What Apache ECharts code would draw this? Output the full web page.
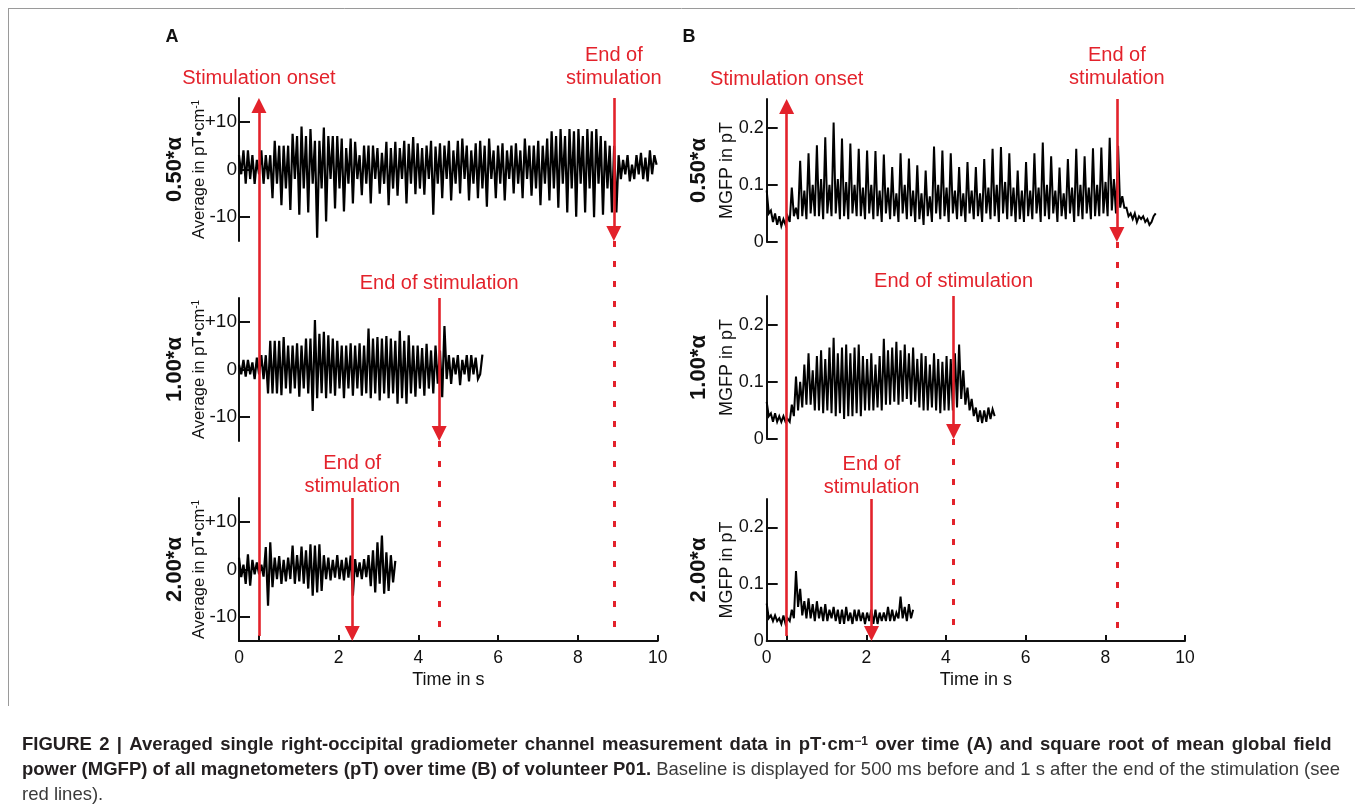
<!DOCTYPE html>
<html><head><meta charset="utf-8">
<script src="https://cdn.jsdelivr.net/npm/echarts@6/dist/echarts.min.js"></script>
<style>html,body{margin:0;padding:0;background:#fff}#c{width:1355px;height:806px}</style>
</head><body><div id="c"></div>
<script>
// ---------- data ----------
const T0 = -0.5;          // first sample time (s)
const STEP_A = 0.056;     // sample step, panel A (s)
const STEP_B = 0.0525;    // sample step, panel B (s)
const X_MIN = -0.5, X_MAX = 10;
const xLabelValues = [-0.5, 2, 4, 6, 8, 10];
const xTickLabels = ['0', '2', '4', '6', '8', '10'];
const xTickValues = [0, 2, 4, 6, 8, 10];
const yTicksA = [-10, 0, 10];
const yTickLabelsA = ['-10', '0', '+10'];
const yTicksB = [0, 0.1, 0.2];
const yTickLabelsB = ['0', '0.1', '0.2'];
const rowLabels = ['0.50*α', '1.00*α', '2.00*α'];
const onsetTime = 0;
const endTimesA = [8.9, 4.52, 2.34];
const endTimesB = [8.29, 4.19, 2.13];

// Panel A: gradiometer average (pT/cm), 0.50α / 1.00α / 2.00α
const A1 = [
 3,-1,4,-3, 4,-2,3,-3, 2,-1,4,-3, 3,-2,3,-6,
 6,-3,5,-7.5, 5,-4,5,-8.5, 7.5,-2,7,-9.5, 9,-4,7,-9,
 8.5,-3,6,-14.3, 6,-4,8.8,-10.9, 7,-2,7,-8.2, 7,-4,6.5,-8.8,
 4.5,-3,6.5,-7.1, 5.8,-2,3,-5.4, 5,-3,5,-7.1, 5,-2,4.5,-5.1,
 3.5,-3,5.8,-7.5, 4.5,-4,5.8,-5.5, 4.5,-2,6,-7.1, 5.4,-3,6.8,-5.2,
 5.5,-4,4.5,-5.3, 5,-2,6,-9.5, 4.8,-3,5.5,-6, 5,-2,6,-6.5,
 4,-3,6,-5, 6.5,-2,5,-6.5, 4,-3,5.5,-6, 6,-4,5,-7.8,
 6.5,-2,4,-6, 5,-3,5.5,-6.5, 4,-2,5,-5, 5.5,-3,4,-6,
 6.5,-2,5,-5.5, 5,-4,6,-7.5, 5,-3,6.5,-6.5, 8,-4,7,-8,
 8.5,-3,7,-9, 8.5,-4,8,-9.9, 8.5,-3,7,-9, 8.5,-4,8,-10,
 8.5,-3,7,-9.5, 6,-4,5,-9, 5,-9,3,-2, 2,-1,3,-2.5,
 1,-2,3,-1, 3.5,-2,2.5,-2.5, 4,-1,3,1
];
const A2 = [
 1,-1,2,-1.5, 2,-1,1.5,-2, 2.5,-1,3,-2, 3,-5,6,-5,
 6,-5,6,-5.4, 6.8,-4,5,-5, 5,-4,5.5,-5.7, 5,-4,6.5,-5,
 6.5,-8.7,10.4,-6, 7.5,-5,7.9,-6, 7.2,-5,6.5,-5.5, 6,-4,5,-6,
 5,-4,5.5,-5.5, 5,-4,5.5,-5.5, 5,-5,8.6,-6, 6.5,-5,6.8,-6.5,
 6.5,-5,7,-6, 6.5,-5,6,-7.2, 8.1,-6,6,-7.2, 7.2,-5,5,-5.7,
 5,-4,4.5,-5.5, 5.4,-4,4,-5, 5,-3,4,-5.8, 9.1,-2,3,-3,
 2.5,-1,3,-3.3, 2,-1,3,-2.5, 3,-1,2.5,-2, -1,3.1
];
const A3 = [
 2.5,-1.6,1,-3, 3.2,-3.4,2,-1, 1.5,-1,1,-1.5, 4.7,-7.6,5.7,-3.7,
 2.5,-2,2.8,-3, 2,-2.5,2.5,-2, 5,-3,3,-2.5, 4.8,-3,4,-4,
 5.3,-5.5,5,-4.8, 5.3,-4.5,3,-2, 2.5,-2.3,2,-1.7, 3,-2,2,-2.3,
 2.5,-1.7,2.9,-5.5, 2.2,-1.6,1.5,-2, 2.2,-1.6,3,-3.5, 4,-4.8,5.7,-3,
 7.1,-5.1,3.6,-4.5, 3,-2.7,1.8
];
// Panel B: MGFP (pT), 0.50α / 1.00α / 2.00α
const B1 = [
 0.09,0.05,0.055,0.035, 0.05,0.03,0.045,0.028, 0.04,0.03,0.045,0.035, 0.095,0.045,0.06,0.04,
 0.142,0.045,0.09,0.04, 0.155,0.05,0.1,0.045, 0.169,0.045,0.11,0.04, 0.183,0.05,0.1,0.045,
 0.209,0.05,0.11,0.04, 0.181,0.045,0.105,0.04, 0.172,0.05,0.1,0.045, 0.163,0.045,0.095,0.04,
 0.16,0.05,0.1,0.04, 0.159,0.045,0.09,0.035, 0.153,0.05,0.095,0.04, 0.131,0.045,0.085,0.035,
 0.155,0.05,0.1,0.04, 0.146,0.045,0.09,0.035, 0.134,0.04,0.085,0.03, 0.125,0.045,0.08,0.035,
 0.167,0.05,0.1,0.04, 0.16,0.045,0.095,0.035, 0.155,0.05,0.09,0.04, 0.131,0.045,0.085,0.035,
 0.14,0.05,0.09,0.04, 0.131,0.045,0.085,0.035, 0.145,0.05,0.095,0.04, 0.163,0.045,0.1,0.035,
 0.166,0.05,0.105,0.04, 0.155,0.045,0.095,0.035, 0.125,0.04,0.09,0.035, 0.14,0.045,0.09,0.04,
 0.155,0.05,0.095,0.035, 0.174,0.045,0.1,0.04, 0.15,0.05,0.09,0.035, 0.13,0.045,0.085,0.04,
 0.145,0.05,0.095,0.035, 0.163,0.045,0.1,0.04, 0.15,0.05,0.095,0.04, 0.164,0.045,0.1,0.045,
 0.165,0.05,0.105,0.045, 0.182,0.055,0.11,0.05, 0.168,0.06,0.08,0.06, 0.06,0.045,0.05,0.04,
 0.05,0.035,0.045,0.04, 0.045,0.035,0.04,0.03, 0.035,0.045,0.05
];
const B2 = [
 0.065,0.04,0.045,0.03, 0.045,0.03,0.04,0.03, 0.04,0.03,0.035,0.03, 0.06,0.04,0.109,0.05,
 0.1,0.055,0.13,0.06, 0.15,0.06,0.12,0.05, 0.145,0.05,0.155,0.045, 0.14,0.05,0.16,0.045,
 0.177,0.04,0.15,0.045, 0.16,0.035,0.165,0.04, 0.15,0.04,0.16,0.045, 0.165,0.04,0.145,0.05,
 0.14,0.05,0.15,0.05, 0.13,0.055,0.145,0.05, 0.175,0.06,0.155,0.06, 0.16,0.065,0.17,0.06,
 0.155,0.065,0.165,0.07, 0.15,0.06,0.16,0.065, 0.14,0.055,0.15,0.05, 0.145,0.05,0.13,0.055,
 0.15,0.05,0.14,0.045, 0.135,0.05,0.145,0.05, 0.14,0.05,0.15,0.055, 0.165,0.07,0.12,0.06,
 0.09,0.05,0.07,0.04, 0.055,0.03,0.05,0.028, 0.05,0.03,0.055,0.035, 0.052,0.04
];
const B3 = [
 0.066,0.04,0.045,0.035, 0.045,0.035,0.04,0.03, 0.045,0.03,0.04,0.035, 0.055,0.04,0.123,0.06,
 0.092,0.045,0.07,0.04, 0.075,0.04,0.065,0.035, 0.07,0.04,0.06,0.035, 0.065,0.035,0.055,0.04,
 0.06,0.035,0.055,0.03, 0.055,0.03,0.06,0.035, 0.05,0.03,0.055,0.035, 0.055,0.035,0.05,0.03,
 0.05,0.035,0.055,0.03, 0.055,0.03,0.05,0.035, 0.05,0.035,0.06,0.035, 0.055,0.035,0.05,0.04,
 0.078,0.04,0.06,0.035, 0.065,0.04,0.055
];

// ---------- layout ----------
const FONT = "'Liberation Sans', Arial, Helvetica, sans-serif";
const RED = '#e3222b';
const INK = '#111';
const BOTTOM = 641;
const ROW_H = 143;
const panels = [
  { left: 239, width: 418.7, tops: [98, 298, 498], step: STEP_A, series: [A1, A2, A3], lineW: 2.2,
    yMin: -15, yMax: 15, yTicks: yTicksA, yLabels: yTickLabelsA, yLabelSize: 19, yLabelMargin: 2,
    yName: 'Average in pT•cm{sup|-1}', yNameSize: 16.5, yNameGap: 31, ends: endTimesA,
    labelX: 175, letter: 'A', letterX: 172, labelDist: [8, 3, 0], dotEnd: 633 },
  { left: 766.7, width: 418.3, tops: [99, 296, 499], step: STEP_B, series: [B1, B2, B3], lineW: 2,
    yMin: 0, yMax: 0.25, yTicks: yTicksB, yLabels: yTickLabelsB, yLabelSize: 18, yLabelMargin: 3,
    yName: 'MGFP in pT', yNameSize: 18, yNameGap: 31, ends: endTimesB,
    labelX: 699, letter: 'B', letterX: 689, labelDist: [9, 3, 0], dotEnd: 633 }
];

const toXY = (arr, step) => arr.map((v, i) => [T0 + i * step, v]);

const grid = [], xAxis = [], yAxis = [], series = [], graphic = [];
const axisLineStyle = { color: INK, width: 2 };

panels.forEach((p, pi) => {
  p.tops.forEach((top, r) => {
    const h = r < 2 ? ROW_H : BOTTOM - top;
    const idx = grid.length;
    grid.push({ left: p.left, top: top, width: p.width, height: h });
    const last = r === 2;
    xAxis.push({
      gridIndex: idx, type: 'value', min: X_MIN, max: X_MAX, show: last,
      axisLine: { show: true, onZero: false, lineStyle: axisLineStyle },
      axisTick: { show: true, inside: true, length: 6, lineStyle: axisLineStyle, customValues: xTickValues },
      axisLabel: { show: true, customValues: xLabelValues, margin: 8, fontSize: 17.5, fontFamily: FONT, color: INK,
        formatter: v => xTickLabels[xLabelValues.findIndex(x => Math.abs(x - v) < 1e-6)] },
      splitLine: { show: false },
      name: last ? 'Time in s' : '', nameLocation: 'middle', nameGap: 30, nameMoveOverlap: false,
      nameTextStyle: { fontSize: 18, fontFamily: FONT, color: INK }
    });
    yAxis.push({
      gridIndex: idx, type: 'value', min: p.yMin, max: p.yMax,
      axisLine: { show: true, onZero: false, lineStyle: axisLineStyle },
      axisTick: { show: true, inside: true, length: 11, lineStyle: axisLineStyle, customValues: p.yTicks },
      axisLabel: { show: true, customValues: p.yTicks, margin: p.yLabelMargin, fontSize: p.yLabelSize, fontFamily: FONT, color: INK,
        formatter: v => p.yLabels[p.yTicks.findIndex(x => Math.abs(x - v) < 1e-9)] },
      splitLine: { show: false },
      name: p.yName, nameLocation: 'middle', nameGap: p.yNameGap, nameRotate: 90, nameMoveOverlap: false,
      nameTextStyle: { fontSize: p.yNameSize, fontFamily: FONT, color: INK,
        rich: { sup: { fontSize: 10, fontFamily: FONT, color: INK, verticalAlign: 'top', lineHeight: 10 } } }
    });
    series.push({
      type: 'line', xAxisIndex: idx, yAxisIndex: idx, data: toXY(p.series[r], p.step),
      showSymbol: false, symbol: 'none', silent: true,
      lineStyle: { color: '#000', width: p.lineW, join: 'miter', miterLimit: 4 }, z: 2
    });
    graphic.push({
      type: 'text', x: p.labelX, y: top + h / 2, rotation: Math.PI / 2, silent: true,
      style: { text: rowLabels[r], fontSize: 22, fontWeight: 'bold', fontFamily: FONT, fill: INK,
        align: 'center', verticalAlign: 'middle' }
    });
  });
  graphic.push({
    type: 'text', x: p.letterX, y: 37, silent: true,
    style: { text: p.letter, fontSize: 18, fontWeight: 'bold', fontFamily: FONT, fill: INK,
      align: 'center', verticalAlign: 'middle' }
  });
});

// overlay grids for the red stimulation markers
const AH = 15; // arrowhead size
panels.forEach((p, pi) => {
  const top0 = p.tops[0];
  const H = BOTTOM - top0;
  const idx = grid.length;
  grid.push({ left: p.left, top: top0, width: p.width, height: H });
  xAxis.push({ gridIndex: idx, type: 'value', min: X_MIN, max: X_MAX, show: false });
  yAxis.push({ gridIndex: idx, type: 'value', min: 0, max: H, show: false });
  const ov = py => BOTTOM - py;
  const solid = { color: RED, width: 2.6, type: 'solid' };
  const lbl = (text, pos, dist) => ({
    show: true, position: pos, formatter: text, distance: dist, color: RED,
    fontSize: 20, lineHeight: 23, fontFamily: FONT
  });
  const data = [];
  data.push([
    { coord: [onsetTime, ov(636)], symbol: 'none', lineStyle: solid, label: lbl('Stimulation onset', 'end', 16) },
    { coord: [onsetTime, H - AH / 2], symbol: 'triangle', symbolSize: [AH, AH] }
  ]);
  p.ends.forEach((te, r) => {
    const top = p.tops[r];
    const bot = r < 2 ? top + ROW_H : BOTTOM;
    data.push([
      { coord: [te, ov(top)], symbol: 'none', lineStyle: solid,
        label: lbl(r === 1 ? 'End of stimulation' : 'End of\nstimulation', 'start', p.labelDist[r]) },
      { coord: [te, ov(bot) + AH / 2], symbol: 'triangle', symbolSize: [AH, AH] }
    ]);
    if (r < 2) {
      data.push([
        { coord: [te, ov(bot)], symbol: 'none', lineStyle: { color: RED, width: 3, type: [6, 14] }, label: { show: false } },
        { coord: [te, ov(p.dotEnd)], symbol: 'none' }
      ]);
    }
  });
  series.push({
    type: 'line', xAxisIndex: idx, yAxisIndex: idx, data: [[X_MIN, -10]], showSymbol: false,
    lineStyle: { opacity: 0 }, silent: true, z: 5,
    markLine: { silent: true, animation: false, symbol: ['none', 'triangle'], symbolSize: [AH, AH],
      itemStyle: { color: RED }, lineStyle: solid, data: data }
  });
});

// frame and caption
graphic.push({ type: 'line', silent: true, shape: { x1: 8, y1: 8.5, x2: 1355, y2: 8.5 }, style: { stroke: '#9a9a9a', lineWidth: 1 } });
graphic.push({ type: 'line', silent: true, shape: { x1: 8.5, y1: 8, x2: 8.5, y2: 706 }, style: { stroke: '#9a9a9a', lineWidth: 1 } });
const CAP = 18.5;
const capRich = {
  b: { fontSize: CAP, fontWeight: 'bold', fontFamily: FONT, fill: '#231f20' },
  w: { fontSize: CAP, fontWeight: 'bold', fontFamily: FONT, fill: '#231f20', width: 7.3 },
  bs: { fontSize: 12, fontWeight: 'bold', fontFamily: FONT, fill: '#231f20', verticalAlign: 'top', lineHeight: 12 },
  n: { fontSize: CAP, fontFamily: FONT, fill: '#3a3a3a' }
};
// first caption line is justified in the original: widen its word spaces
const justify = s => s.split(' ').map(w => '{b|' + w + '}').join('{w| }');
const captionLines = [
  justify('FIGURE 2 | Averaged single right-occipital gradiometer channel measurement data in pT·cm') +
    '{bs|−1}{w| }' + justify('over time (A) and square root of mean global field'),
  '{b|power (MGFP) of all magnetometers (pT) over time (B) of volunteer P01.}{n| Baseline is displayed for 500 ms before and 1 s after the end of the stimulation (see}',
  '{n|red lines).}'
];
captionLines.forEach((t, i) => {
  graphic.push({ type: 'text', silent: true, x: 22, y: 745 + i * 25,
    style: { text: t, rich: capRich, verticalAlign: 'middle', align: 'left' } });
});

const chart = echarts.init(document.getElementById('c'), null, { renderer: 'canvas' });
chart.setOption({ animation: false, backgroundColor: '#fff', grid, xAxis, yAxis, series, graphic });
</script>
</body></html>
